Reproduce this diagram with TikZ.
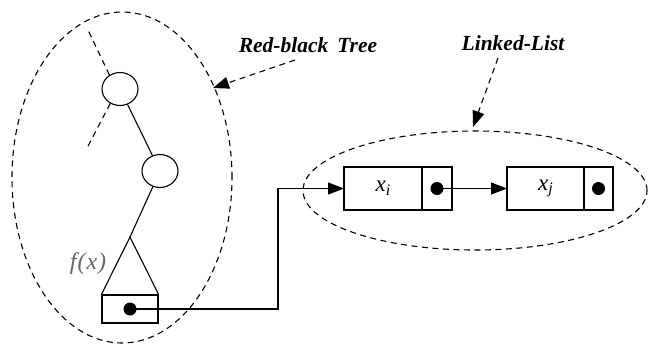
\documentclass[tikz,border=0pt]{standalone}
\usepackage{fontspec}
\setmainfont{Liberation Serif}
\usetikzlibrary{arrows.meta,positioning,shapes.geometric}
\newcommand{\elem}[2]{\itshape #1\raisebox{-0.35ex}{\fontsize{16}{18}\selectfont #2}}

\begin{document}
\begin{tikzpicture}[x=1pt,y=-1pt,
  line width=1.1pt, >={Triangle[length=16pt,width=12pt]},
  dsh/.style={dash pattern=on 6pt off 4.5pt},
  region/.style={draw,dsh,ellipse,inner sep=0pt},
  rbnode/.style={draw,ellipse,minimum width=36pt,minimum height=33pt,inner sep=0pt},
  cell/.style={draw,minimum height=43pt,inner sep=0pt,outer sep=0pt,font=\fontsize{23}{26}\selectfont},
  dot/.style={circle,fill=black,minimum size=13pt,inner sep=0pt},
  title/.style={font=\fontsize{21.5}{24}\selectfont\bfseries\itshape},
  link/.style={->}]
\useasboundingbox (0,0) rectangle (648,354);
% regions
\node[region,minimum width=220pt,minimum height=331pt] (tree) at (122,177.5) {};
\node[region,minimum width=344pt,minimum height=119pt] (list) at (475,190.5) {};
% red-black tree
\node[rbnode] (n1) at (120,89) {};
\node[rbnode] (n2) at (160,171) {};
\coordinate (top) at (87,28);
\coordinate (lft) at (86,150);
\coordinate (apex) at (130,237);
\draw[dsh] (n1.127) -- (top);
\draw[dsh] (n1.236) -- (lft);
\draw (n1) -- (n2);
\draw (n2) -- (apex);
\node[draw,minimum width=56pt,minimum height=28pt,inner sep=0pt] (fbox) at (130,309) {};
\draw (fbox.north west) -- (apex) -- (fbox.north east);
\node[dot] (fdot) at (fbox.center) {};
\node[gray!80!black,font=\fontsize{24}{26}\selectfont\itshape] (flab) at (88,264) {f\kern1pt(\kern1pt x\kern1pt)};
% linked list
\node[cell,minimum width=78pt] (xi) at (383,188.5) {\elem{x}{i}};
\node[cell,minimum width=30pt,right=0pt of xi] (pi) {};
\node[dot] (di) at (pi.center) {};
\node[cell,minimum width=77pt,right=55pt of pi] (xj) {\elem{x}{j}};
\node[cell,minimum width=29pt,right=0pt of xj] (pj) {};
\node[dot] (dj) at (pj.center) {};
\coordinate (turn) at (278,309);
\draw[link] (fdot.center) -- (turn) |- (xi.west);
\draw[link] (di.center) -- (xj.west);
% labels
\node[title] (rbt) at (308,45) {Red-black\, Tree};
\node[title] (ll) at (513,43) {Linked-List};
\draw[dsh,->] (295,60) coordinate (rbs) (rbs) -- (213,88);
\draw[dsh,->] (498,58) coordinate (lls) (lls) -- (473,127);
\end{tikzpicture}
\end{document}
